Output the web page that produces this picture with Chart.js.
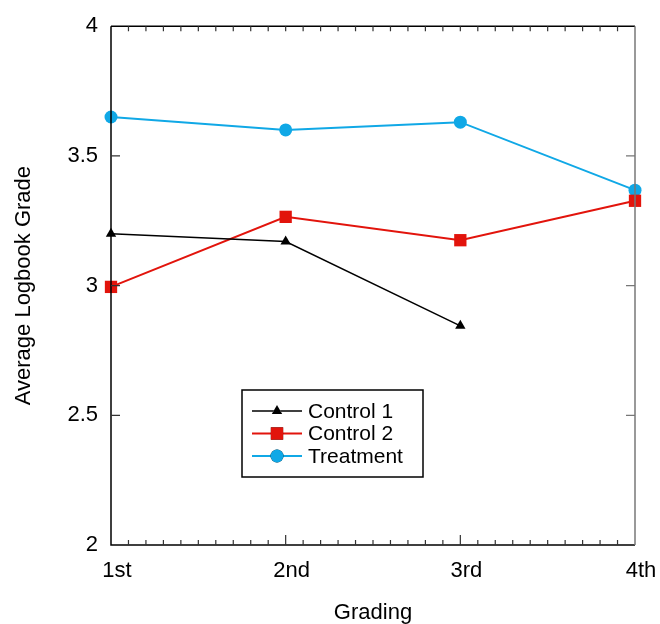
<!DOCTYPE html>
<html>
<head>
<meta charset="utf-8">
<script src="https://cdn.jsdelivr.net/npm/chart.js@4"></script>
<style>
    html, body { margin: 0; padding: 0; background: #fff; }
    #wrap { width: 660px; height: 624px; position: relative; }
</style>
</head>
<body>
<div id="wrap"><canvas id="chartRef" width="660" height="624"></canvas></div>
<script>
const gradings = ["1st", "2nd", "3rd", "4th"];
const control1 = [3.2, 3.17, 2.845, null];
const control2 = [2.995, 3.265, 3.175, 3.327];
const treatment = [3.65, 3.6, 3.63, 3.368];
const yTicks = [2, 2.5, 3, 3.5, 4];

const FONT = "'Liberation Sans', Arial, Helvetica, sans-serif";

// frame, inward ticks and the boxed legend
const framePlugin = {
    id: "frame",
    afterDraw(chart) {
        const { ctx, chartArea: a, scales } = chart;
        const x = scales.x, y = scales.y;
        ctx.save();
        ctx.lineWidth = 1.5;
        ctx.strokeStyle = "#000";
        ctx.beginPath();
        ctx.moveTo(a.left, a.top);
        ctx.lineTo(a.left, a.bottom);
        ctx.lineTo(a.right, a.bottom);
        ctx.moveTo(a.left, a.top);
        ctx.lineTo(a.right, a.top);
        ctx.stroke();
        ctx.strokeStyle = "#777";
        ctx.beginPath();
        ctx.moveTo(a.right, a.top);
        ctx.lineTo(a.right, a.bottom);
        ctx.stroke();

        ctx.lineWidth = 1.2;
        ctx.strokeStyle = "#333";
        ctx.beginPath();
        for (let i = 0; i < gradings.length - 1; i++) {
            for (let k = 1; k <= 10; k++) {
                const px = x.getPixelForValue(i + k / 10);
                const len = k === 10 ? 10 : 5;
                if (k === 10 && i === gradings.length - 2) continue;
                ctx.moveTo(px, a.bottom);
                ctx.lineTo(px, a.bottom - len);
                ctx.moveTo(px, a.top);
                ctx.lineTo(px, a.top + 5);
            }
        }
        yTicks.forEach((v) => {
            if (v === yTicks[0] || v === yTicks[yTicks.length - 1]) return;
            const py = y.getPixelForValue(v);
            ctx.moveTo(a.left, py);
            ctx.lineTo(a.left + 9, py);
        });
        ctx.stroke();
        ctx.strokeStyle = "#777";
        ctx.beginPath();
        yTicks.forEach((v) => {
            if (v === yTicks[0] || v === yTicks[yTicks.length - 1]) return;
            const py = y.getPixelForValue(v);
            ctx.moveTo(a.right, py);
            ctx.lineTo(a.right - 9, py);
        });
        ctx.stroke();

        // legend box
        const lx = 242, ly = 390, lw = 181, lh = 87;
        ctx.fillStyle = "#fff";
        ctx.fillRect(lx, ly, lw, lh);
        ctx.lineWidth = 1.5;
        ctx.strokeStyle = "#000";
        ctx.strokeRect(lx, ly, lw, lh);
        ctx.font = "21px " + FONT;
        ctx.textBaseline = "middle";
        chart.data.datasets.forEach((ds, i) => {
            const ry = ly + 21 + i * 22.5;
            ctx.strokeStyle = ds.borderColor;
            ctx.lineWidth = ds.borderWidth;
            ctx.beginPath();
            ctx.moveTo(lx + 10, ry);
            ctx.lineTo(lx + 60, ry);
            ctx.stroke();
            Chart.helpers.drawPoint(ctx, {
                pointStyle: ds.pointStyle,
                radius: ds.pointRadius,
                borderWidth: 0,
                rotation: 0
            }, lx + 35, ry);
            ctx.fillStyle = ds.pointBackgroundColor;
            ctx.fill();
            ctx.fillStyle = "#000";
            ctx.fillText(ds.label, lx + 66, ry + 1);
        });
        ctx.restore();
    }
};

const ctx = document.getElementById("chartRef").getContext("2d");
new Chart(ctx, {
    type: "line",
    data: {
        labels: gradings,
        datasets: [
            {
                label: "Control 1",
                data: control1,
                borderColor: "#000",
                backgroundColor: "#000",
                pointBackgroundColor: "#000",
                borderWidth: 1.5,
                pointStyle: "triangle",
                pointRadius: 6,
                pointBorderWidth: 0
            },
            {
                label: "Control 2",
                data: control2,
                borderColor: "#e2140c",
                backgroundColor: "#e2140c",
                pointBackgroundColor: "#e2140c",
                borderWidth: 2,
                pointStyle: "rect",
                pointRadius: 8.7,
                pointBorderWidth: 0
            },
            {
                label: "Treatment",
                data: treatment,
                borderColor: "#10a8e6",
                backgroundColor: "#10a8e6",
                pointBackgroundColor: "#10a8e6",
                borderWidth: 2,
                pointStyle: "circle",
                pointRadius: 6.5,
                pointBorderWidth: 0
            }
        ]
    },
    options: {
        responsive: false,
        animation: false,
        spanGaps: false,
        clip: false,
        layout: { padding: { top: 22, right: 25, left: 0, bottom: 0 } },
        plugins: {
            legend: { display: false },
            tooltip: { enabled: false }
        },
        scales: {
            x: {
                type: "category",
                offset: false,
                grid: { display: false, drawTicks: false },
                border: { display: false },
                ticks: {
                    color: "#000",
                    padding: 13,
                    labelOffset: 6,
                    maxRotation: 0,
                    font: { family: FONT, size: 22 }
                },
                title: {
                    display: true,
                    text: "Grading",
                    color: "#000",
                    padding: { top: 0, bottom: 0 },
                    font: { family: FONT, size: 22, lineHeight: 1 }
                },
                afterFit: (s) => {
                    s.height = 79;
                    s.paddingLeft = 0;
                    s.paddingRight = 0;
                }
            },
            y: {
                min: 2,
                max: 4,
                grid: { display: false, drawTicks: false },
                border: { display: false },
                afterBuildTicks: (s) => { s.ticks = yTicks.map((v) => ({ value: v })); },
                ticks: {
                    color: "#000",
                    padding: 13,
                    font: { family: FONT, size: 22 },
                    callback: (v) => String(v)
                },
                title: {
                    display: true,
                    text: "Average Logbook Grade",
                    color: "#000",
                    padding: { top: 11, bottom: 0 },
                    font: { family: FONT, size: 22 }
                },
                afterFit: (s) => { s.width = 111; }
            }
        }
    },
    plugins: [framePlugin]
});
</script>
</body>
</html>
